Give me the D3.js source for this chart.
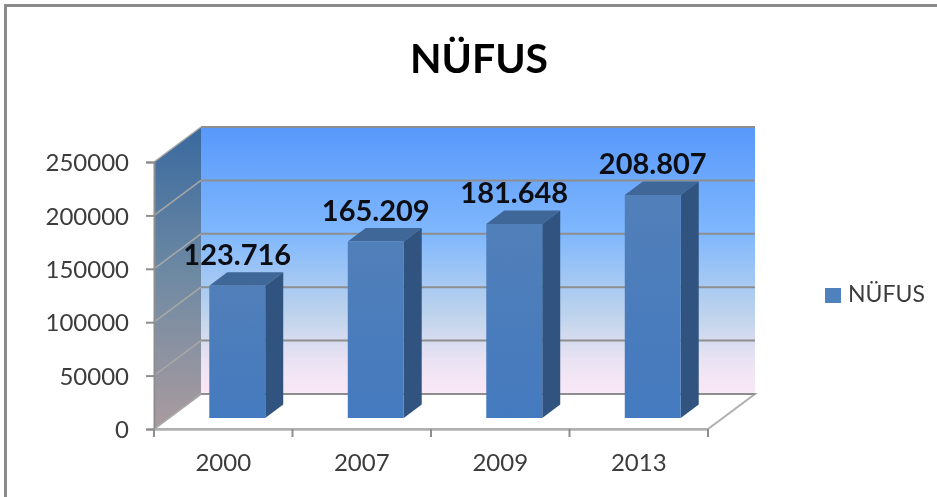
<!DOCTYPE html>
<html>
<head>
<meta charset="utf-8">
<title>NÜFUS</title>
<script src="https://cdn.jsdelivr.net/npm/d3@7"></script>
<style>
  html, body { margin: 0; padding: 0; background: #fff; }
  svg { display: block; filter: blur(0.45px); }
  text { font-family: Lato, "Open Sans", sans-serif; }
</style>
</head>
<body>
<div id="chart"></div>
<script>
const categories = ['2000', '2007', '2009', '2013'];
const population = [123716, 165209, 181648, 208807];
const valueLabels = ['123.716', '165.209', '181.648', '208.807'];
const yTicks = [0, 50000, 100000, 150000, 200000, 250000];
const seriesName = 'NÜFUS';

const width = 937;
const height = 497;

// depth of the fake 3d box, and how far the bars sit inside it
const depthX = 47;
const depthY = -35;
const barShiftX = 14;
const barShiftY = -11;
const barDepthX = 18;
const barDepthY = -13.5;

const svg = d3.select('#chart')
  .append('svg')
  .attr('width', width)
  .attr('height', height);

const x = d3.scaleBand()
  .domain(categories)
  .range([154, 708])
  .paddingInner(0.596)
  .paddingOuter(0.298);

const y = d3.scaleLinear()
  .domain([0, 250000])
  .range([429, 162]);

const defs = svg.append('defs');

const addGradient = (id, stops) => {
  const g = defs.append('linearGradient')
    .attr('id', id)
    .attr('x1', 0).attr('y1', 0)
    .attr('x2', 0).attr('y2', 1);
  stops.forEach((s) => g.append('stop').attr('offset', s[0]).attr('stop-color', s[1]));
};

addGradient('wall', [[0, '#5898fb'], [0.4, '#80b8fd'], [0.7, '#bdd3ec'], [0.88, '#ebe3f3'], [1, '#fae8f6']]);
addGradient('side', [[0, '#39699f'], [0.5, '#6f8aa3'], [1, '#ab9b9f']]);
addGradient('bar', [[0, '#517fb9'], [1, '#447abf']]);

// frame around the chart, only top and left are visible
svg.append('path')
  .attr('d', `M5.5,${height} V5.5 H${width}`)
  .attr('fill', 'none')
  .attr('stroke', '#8a8a8a')
  .attr('stroke-width', 3);

const poly = (pts) => 'M' + pts.map((p) => p.join(',')).join('L') + 'Z';
const [x0, x1] = x.range();
const yMin = y(0);
const yMax = y(250000);

// floor
svg.append('path')
  .attr('d', poly([[x0, yMin], [x0 + depthX, yMin + depthY], [x1 + depthX, yMin + depthY], [x1, yMin]]))
  .attr('fill', '#fff')
  .attr('stroke', '#b0b0b0')
  .attr('stroke-width', 2);

// back wall
svg.append('rect')
  .attr('x', x0 + depthX)
  .attr('y', yMax + depthY)
  .attr('width', x1 - x0)
  .attr('height', yMin - yMax)
  .attr('fill', 'url(#wall)');

// left wall
svg.append('path')
  .attr('d', poly([[x0, yMin], [x0, yMax], [x0 + depthX, yMax + depthY], [x0 + depthX, yMin + depthY]]))
  .attr('fill', 'url(#side)');

// gridlines, back wall then left wall
svg.selectAll('.grid')
  .data(yTicks)
  .enter()
  .append('line')
  .attr('class', 'grid')
  .attr('x1', x0 + depthX)
  .attr('x2', x1 + depthX)
  .attr('y1', (d) => y(d) + depthY)
  .attr('y2', (d) => y(d) + depthY)
  .attr('stroke', '#8e8e8e')
  .attr('stroke-width', 2);

svg.selectAll('.gridSide')
  .data(yTicks)
  .enter()
  .append('line')
  .attr('class', 'gridSide')
  .attr('x1', x0)
  .attr('x2', x0 + depthX)
  .attr('y1', (d) => y(d))
  .attr('y2', (d) => y(d) + depthY)
  .attr('stroke', '#a8a8a8')
  .attr('stroke-width', 1.5);

// y axis
const yAxis = svg.append('g')
  .attr('transform', `translate(${x0},0)`)
  .call(d3.axisLeft(y).tickValues(yTicks).tickFormat(d3.format('d')).tickSize(8).tickPadding(17));
yAxis.select('.domain').attr('stroke', '#8e8e8e').attr('stroke-width', 2);
yAxis.selectAll('.tick line').attr('stroke', '#8e8e8e').attr('stroke-width', 2);
yAxis.selectAll('text')
  .attr('fill', '#3c3c3c')
  .attr('dy', '0.36em')
  .style('font-size', '24px');

// x axis: labels sit on the band centre, ticks on the band edges
const xAxis = svg.append('g')
  .attr('transform', `translate(0,${yMin})`)
  .call(d3.axisBottom(x).tickSize(0).tickPadding(25));
xAxis.select('.domain').attr('stroke', '#b0b0b0').attr('stroke-width', 2.5);
xAxis.selectAll('text')
  .attr('fill', '#3c3c3c')
  .style('font-size', '24px');

svg.selectAll('.xTick')
  .data(d3.range(categories.length + 1))
  .enter()
  .append('line')
  .attr('class', 'xTick')
  .attr('x1', (d) => x0 + d * x.step())
  .attr('x2', (d) => x0 + d * x.step())
  .attr('y1', yMin)
  .attr('y2', yMin + 8)
  .attr('stroke', '#8e8e8e')
  .attr('stroke-width', 2);

// bars: top and side faces first, front face last
const bars = svg.selectAll('.bar')
  .data(population)
  .enter()
  .append('g')
  .attr('class', 'bar')
  .attr('transform', `translate(${barShiftX},${barShiftY})`);

const left = (d, i) => x(categories[i]);
const right = (d, i) => x(categories[i]) + x.bandwidth();

bars.append('path')
  .attr('d', (d, i) => poly([
    [left(d, i), y(d)],
    [left(d, i) + barDepthX, y(d) + barDepthY],
    [right(d, i) + barDepthX, y(d) + barDepthY],
    [right(d, i), y(d)]
  ]))
  .attr('fill', '#3f6797');

bars.append('path')
  .attr('d', (d, i) => poly([
    [right(d, i), y(d)],
    [right(d, i) + barDepthX, y(d) + barDepthY],
    [right(d, i) + barDepthX, y(0) + barDepthY],
    [right(d, i), y(0)]
  ]))
  .attr('fill', '#30547f');

bars.append('rect')
  .attr('x', left)
  .attr('y', (d) => y(d))
  .attr('width', x.bandwidth())
  .attr('height', (d) => y(0) - y(d))
  .attr('fill', 'url(#bar)');

// value labels
bars.append('text')
  .text((d, i) => valueLabels[i])
  .attr('x', (d, i) => left(d, i) + x.bandwidth() / 2)
  .attr('y', (d) => y(d) - 20.5)
  .attr('text-anchor', 'middle')
  .attr('fill', '#0d0d14')
  .style('font-size', '29px')
  .style('font-weight', 700);

// title
svg.append('text')
  .text(seriesName)
  .attr('x', 479)
  .attr('y', 73)
  .attr('text-anchor', 'middle')
  .attr('fill', '#000')
  .style('font-size', '41px')
  .style('font-weight', 700);

// legend
svg.append('rect')
  .attr('x', 825)
  .attr('y', 288)
  .attr('width', 16)
  .attr('height', 15)
  .attr('fill', '#4f81bd');

svg.append('text')
  .text(seriesName)
  .attr('x', 848)
  .attr('y', 302)
  .attr('fill', '#3c3c3c')
  .style('font-size', '23px');
</script>
</body>
</html>
